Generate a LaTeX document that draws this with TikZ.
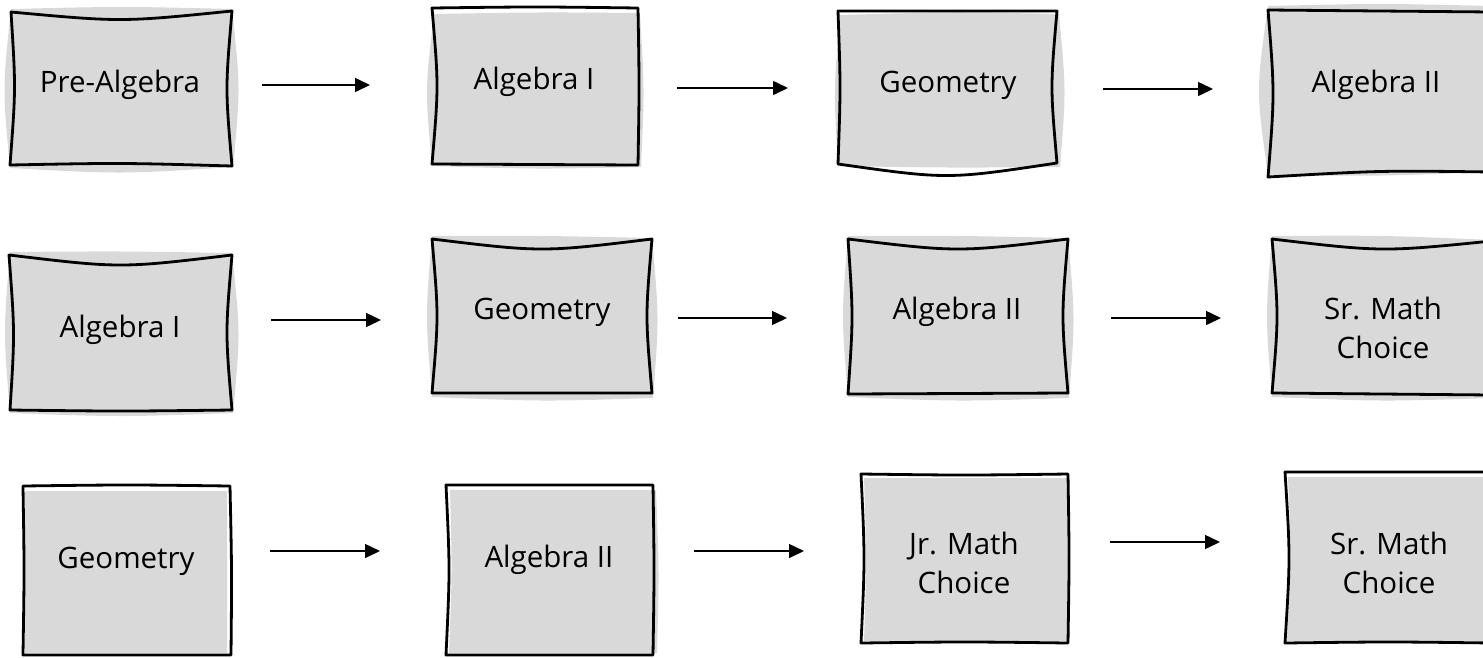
\documentclass[tikz,border=0pt]{standalone}
\usepackage{fontspec}
\setmainfont{Open Sans}
\usetikzlibrary{calc,arrows.meta}
\definecolor{boxgray}{RGB}{217,217,217}
\tikzset{
  boxfill/.style={fill=boxgray,draw=none},
  boxline/.style={draw=black,line width=2.8pt,line join=round,line cap=round},
  lbl/.style={font=\fontsize{29.5}{39}\selectfont,anchor=base,inner sep=0pt,text=black},
  arr/.style={line width=1.5pt,-{Triangle[length=15pt,width=14pt]}}
}
% #1 TL #2 TR #3 BR #4 BL, #5..#8 inward bulge of top,right,bottom,left, #9 style
\newcommand\wob[9]{\path[#9] (#1) .. controls ($(#1)!0.5!(#2)+(0,{(#5)*4/3})$) .. (#2)
  .. controls ($(#2)!0.5!(#3)+({-(#6)*4/3},0)$) .. (#3)
  .. controls ($(#3)!0.5!(#4)+(0,{-(#7)*4/3})$) .. (#4)
  .. controls ($(#4)!0.5!(#1)+({(#8)*4/3},0)$) .. (#1) -- cycle;}
\newcommand\two[2]{\begin{tabular}[b]{@{}c@{}}#1\\#2\end{tabular}}
\begin{document}
\begin{tikzpicture}[x=1pt,y=-1pt]
\useasboundingbox (0,0) rectangle (1483,657);
\clip (0,0) rectangle (1483,657);
% Row 1
\wob{11,9}{232,9}{233,167}{10,168}{-2}{-6}{-5}{-6}{boxfill}
\wob{11,12}{232,11}{232,166}{10,165}{8}{5}{2}{4}{boxline}
\node[lbl] (a1) at (120,92) {Pre-Algebra};
\wob{434,14}{640,13}{641,167}{432,166}{-1}{-3}{-2}{-6}{boxfill}
\wob{432,8}{638,8}{638,165}{432,164}{-1}{-1}{0}{5}{boxline}
\node[lbl] (a2) at (534,89) {Algebra I};
\wob{840,15}{1059,14}{1060,167}{838,166}{-2}{-5}{-1}{-4}{boxfill}
\wob{838,11}{1057,11}{1057,163}{838,164}{0}{5}{-12}{2}{boxline}
\node[lbl] (a3) at (948,92) {Geometry};
\wob{1268,6}{1492,6}{1492,172}{1268,175}{-2}{0}{-2}{-9}{boxfill}
\wob{1268,10}{1492,12}{1492,172}{1268,177}{0}{0}{3}{5}{boxline}
\node[lbl] (a4) at (1376,92) {Algebra II};
% Row 2
\wob{10,252}{232,253}{233,413}{10,413}{-1}{-6}{-3}{-5}{boxfill}
\wob{9,255}{232,255}{232,410}{10,410}{10}{5}{-1}{4}{boxline}
\node[lbl] (b1) at (120,337) {Algebra I};
\wob{432,236}{652,238}{653,398}{432,397}{-1}{-5}{-3}{-5}{boxfill}
\wob{432,239}{652,239}{652,393}{432,393}{10}{5}{0}{5}{boxline}
\node[lbl] (b2) at (542,319) {Geometry};
\wob{848,236}{1068,238}{1069,398}{848,397}{-1}{-5}{-3}{-5}{boxfill}
\wob{848,239}{1068,239}{1068,393}{848,394}{10}{5}{0}{4}{boxline}
\node[lbl] (b3) at (957,319) {Algebra II};
\wob{1272,236}{1492,240}{1492,398}{1272,397}{-2}{0}{-3}{-5}{boxfill}
\wob{1272,239}{1492,241}{1492,395}{1272,393}{9}{0}{0}{5}{boxline}
\node[lbl] (b4) at (1383,358) {\two{Sr. Math}{Choice}};
% Row 3
\wob{25,491}{227,491}{227,653}{25,653}{0}{0}{0}{0}{boxfill}
\wob{23,486}{230,486}{231,655}{23,655}{-1}{-1}{0}{1}{boxline}
\node[lbl] (c1) at (126,568) {Geometry};
\wob{450,490}{656,490}{657,653}{449,653}{0}{-2}{0}{2}{boxfill}
\wob{446,485}{653,485}{653,655}{446,655}{0}{-1}{0}{3}{boxline}
\node[lbl] (c2) at (549,567) {Algebra II};
\wob{864,478}{1067,478}{1068,641}{864,641}{0}{0}{0}{2}{boxfill}
\wob{861,474}{1068,474}{1068,643}{861,643}{1}{-1}{1}{3}{boxline}
\node[lbl] (c3) at (964,593) {\two{Jr. Math}{Choice}};
\wob{1288,477}{1492,477}{1492,641}{1287,641}{0}{0}{0}{3}{boxfill}
\wob{1285,472}{1492,472}{1492,643}{1285,643}{0}{0}{1}{4}{boxline}
\node[lbl] (c4) at (1389,593) {\two{Sr. Math}{Choice}};
% Arrows
\coordinate (r1a) at (262,85);  \coordinate (r1b) at (370,85);
\coordinate (r1c) at (677,88);  \coordinate (r1d) at (788,88);
\coordinate (r1e) at (1103,89); \coordinate (r1f) at (1213,89);
\coordinate (r2a) at (271,320); \coordinate (r2b) at (381,320);
\coordinate (r2c) at (678,318); \coordinate (r2d) at (787,318);
\coordinate (r2e) at (1111,318);\coordinate (r2f) at (1221,318);
\coordinate (r3a) at (270,551); \coordinate (r3b) at (380,551);
\coordinate (r3c) at (694,551); \coordinate (r3d) at (804,551);
\coordinate (r3e) at (1110,542);\coordinate (r3f) at (1220,542);
\draw[arr] (r1a) -- (r1b);
\draw[arr] (r1c) -- (r1d);
\draw[arr] (r1e) -- (r1f);
\draw[arr] (r2a) -- (r2b);
\draw[arr] (r2c) -- (r2d);
\draw[arr] (r2e) -- (r2f);
\draw[arr] (r3a) -- (r3b);
\draw[arr] (r3c) -- (r3d);
\draw[arr] (r3e) -- (r3f);
\end{tikzpicture}
\end{document}
